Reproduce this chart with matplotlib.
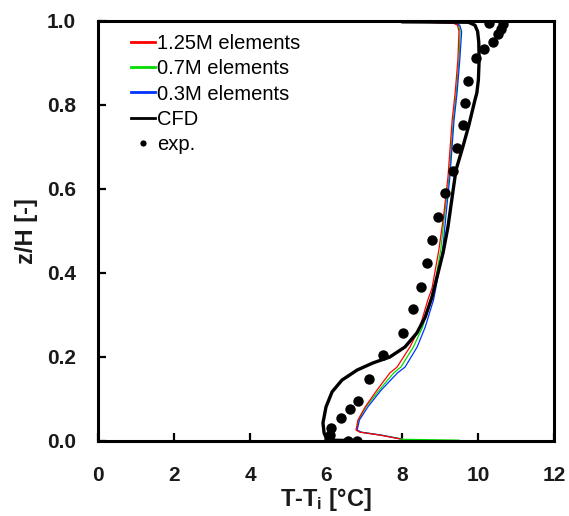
import matplotlib
matplotlib.use("Agg")
import matplotlib.pyplot as plt
from matplotlib.lines import Line2D

plt.rcParams["font.family"] = ["Liberation Sans", "DejaVu Sans"]
plt.rcParams["mathtext.fontset"] = "custom"
plt.rcParams["mathtext.rm"] = "Liberation Sans:bold"
plt.rcParams["mathtext.it"] = "Liberation Sans:bold"
plt.rcParams["mathtext.default"] = "rm"

# Vertical temperature profiles: z/H against T - T_i
y_mesh = [0.997, 0.995, 0.99, 0.975, 0.907, 0.83, 0.764, 0.629, 0.54, 0.455,
          0.364, 0.336, 0.271, 0.224, 0.176, 0.162, 0.121, 0.081, 0.050, 0.026,
          0.021, 0.014, 0.005]
t_125m = [8.6, 9.35, 9.46, 9.50, 9.47, 9.40, 9.32, 9.21, 9.10, 8.97,
          8.79, 8.68, 8.47, 8.21, 7.87, 7.68, 7.34, 7.03, 6.84, 6.79,
          6.89, 7.42, 7.95]
t_07m = [8.6, 9.38, 9.49, 9.53, 9.50, 9.43, 9.35, 9.24, 9.12, 9.02,
         8.84, 8.76, 8.54, 8.30, 7.97, 7.78, 7.40, 7.05, 6.86, 6.81,
         6.92, 7.45, 8.0]
t_03m = [8.7, 9.40, 9.52, 9.57, 9.52, 9.45, 9.37, 9.26, 9.16, 9.07,
         8.89, 8.83, 8.61, 8.40, 8.08, 7.88, 7.45, 7.10, 6.88, 6.82,
         6.93, 7.45, 7.95]
# 0.7M profile runs on along the floor
t_07m_floor = [8.0, 9.5]
y_07m_floor = [0.004, 0.002]

y_cfd = [0.998, 0.997, 0.99, 0.975, 0.95, 0.907, 0.86, 0.829, 0.812, 0.752,
         0.70, 0.645, 0.581, 0.510, 0.448, 0.390, 0.343, 0.295, 0.257, 0.224,
         0.200, 0.186, 0.169, 0.145, 0.117, 0.081, 0.043, 0.019, 0.002, 0.001]
t_cfd = [8.0, 9.75, 9.92, 9.99, 10.02, 10.03, 10.01, 9.97, 9.92, 9.76,
         9.60, 9.42, 9.32, 9.21, 9.08, 8.92, 8.79, 8.61, 8.39, 8.08,
         7.68, 7.24, 6.82, 6.42, 6.16, 6.00, 5.92, 5.95, 6.03, 6.8]

y_exp = [0.995, 0.993, 0.981, 0.969, 0.950, 0.933, 0.912, 0.857, 0.805, 0.752,
         0.698, 0.643, 0.590, 0.533, 0.479, 0.424, 0.367, 0.314, 0.257, 0.205,
         0.148, 0.095, 0.076, 0.055, 0.031, 0.014, 0.003, 0.0, 0.0]
t_exp = [10.29, 10.66, 10.61, 10.53, 10.39, 10.16, 9.95, 9.74, 9.66, 9.61,
         9.45, 9.34, 9.13, 8.95, 8.79, 8.66, 8.50, 8.29, 8.03, 7.50,
         7.13, 6.84, 6.63, 6.39, 6.13, 6.11, 6.08, 6.58, 6.82]

x_ticks = [0, 2, 4, 6, 8, 10, 12]
y_ticks = [0.0, 0.2, 0.4, 0.6, 0.8, 1.0]

fig = plt.figure(figsize=(5.69, 5.16), dpi=100)
ax = fig.add_axes([98 / 569, 75 / 516, 456 / 569, 420 / 516])

ax.plot(t_07m + t_07m_floor, y_mesh + y_07m_floor, color="#00dd00", lw=0.9, zorder=3)
ax.plot(t_03m, y_mesh, color="#0033ff", lw=0.9, zorder=3)
ax.plot(t_125m, y_mesh, color="#ff0000", lw=0.9, zorder=4)
ax.plot(t_cfd, y_cfd, color="black", lw=2.4, zorder=5, solid_capstyle="round")
ax.plot(t_exp, y_exp, "o", color="black", ms=7.5, mew=0, zorder=6)

ax.set_xlim(0, 12)
ax.set_ylim(0, 1)
ax.set_xticks(x_ticks)
ax.set_yticks(y_ticks)
ax.set_xticklabels([str(v) for v in x_ticks])
ax.set_yticklabels([f"{v:.1f}" for v in y_ticks])

for s in ax.spines.values():
    s.set_linewidth(2.2)
    s.set_zorder(7)

ax.tick_params(axis="both", direction="in", length=6, width=1.6,
               labelsize=15, colors="black", labelcolor="#1a1a1a")
ax.tick_params(axis="x", pad=18)
ax.tick_params(axis="y", pad=16)
for lab in ax.get_xticklabels() + ax.get_yticklabels():
    lab.set_fontweight("bold")

ax.set_xlabel("T-T$_i$ [°C]", fontsize=17, fontweight="bold", labelpad=1,
              color="#1a1a1a")
ax.set_ylabel("z/H [-]", fontsize=17, fontweight="bold", labelpad=6,
              color="#1a1a1a")

handles = [
    Line2D([], [], color="#ff0000", lw=2),
    Line2D([], [], color="#00dd00", lw=2),
    Line2D([], [], color="#0033ff", lw=2),
    Line2D([], [], color="black", lw=2),
    Line2D([], [], color="black", marker="o", ls="none", ms=4.5, mew=0),
]
labels = ["1.25M elements", "0.7M elements", "0.3M elements", "CFD", "exp."]
ax.legend(handles, labels, loc="upper left", bbox_to_anchor=(0.072, 0.968),
          frameon=False, fontsize=14.5, handlelength=1.2, handletextpad=0.1,
          labelspacing=0.3, borderaxespad=0, borderpad=0)

fig.savefig("out.png", dpi=100)
